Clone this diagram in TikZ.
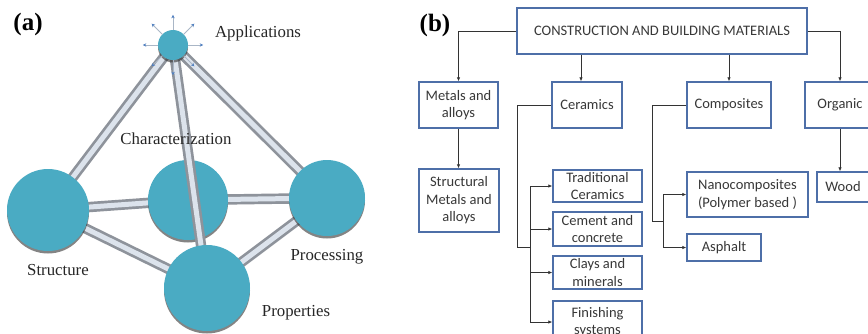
\documentclass[tikz,border=0pt]{standalone}
\usepackage{fontspec}
\setmainfont{Liberation Serif}
\newfontfamily\boxfont{Carlito}
\usetikzlibrary{arrows.meta,shadows}
\definecolor{ballteal}{HTML}{4AABC3}
\definecolor{rodgray}{HTML}{8E939B}
\definecolor{rodlight}{HTML}{DCE3EC}
\definecolor{raygray}{HTML}{A9B6C6}
\definecolor{tipblue}{HTML}{4F7FC0}
\definecolor{boxblue}{HTML}{4E6FA8}
\begin{document}
\begin{tikzpicture}[x=1pt,y=-1pt,
    ball/.style={circle,fill=ballteal,inner sep=0pt,
      drop shadow={shadow xshift=0pt,shadow yshift=-2.5pt,fill=black!80,opacity=0.6}},
    rod/.style={draw=rodgray,line width=2.7pt,double=rodlight,double distance=5pt},
    ray/.style={draw=raygray,line width=0.8pt,-{Stealth[length=3.5pt,width=3.5pt,color=tipblue]}},
    lbl/.style={font=\fontsize{16.8}{19}\selectfont,text=black!85},
    panel/.style={font=\bfseries\fontsize{25}{28}\selectfont},
    box/.style={draw=boxblue,line width=1.4pt,fill=white,align=center,inner sep=1pt,
      text=black!78,font=\boxfont\fontsize{14.5}{17.5}\selectfont},
    wire/.style={draw=black!80,line width=0.8pt},
    link/.style={wire,-{Latex[length=4pt,width=3.5pt]}}]
  \clip (0,0) rectangle (868,333);
  \fill[white] (0,0) rectangle (868,333);

  % (a) tetrahedron
  \node[panel] (lbla) at (28,24) {(a)};
  \coordinate (a0) at (173,45);
  \coordinate (s0) at (48,210);
  \coordinate (c0) at (188,200);
  \coordinate (pc0) at (327,198);
  \coordinate (pr0) at (207,288);
  \draw[rod] (s0) -- (c0);
  \draw[rod] (c0) -- (pc0);
  \node[ball,minimum size=80pt] (charac) at (c0) {};
  \draw[rod] (a0) -- (s0);
  \draw[rod] (a0) -- (pc0);
  \draw[rod] (s0) -- (pr0);
  \draw[rod] (pr0) -- (pc0);
  \draw[rod] (a0) -- (pr0);
  \node[ball,minimum size=82pt] (struct) at (s0) {};
  \node[ball,minimum size=76pt] (proc) at (pc0) {};
  \node[ball,minimum size=86pt] (prop) at (pr0) {};
  \node[ball,minimum size=30pt] (app) at (a0) {};
  \foreach \ang in {0,45,...,315}
    \draw[ray] (app.\ang) -- ++(\ang:15pt);

  \node[lbl] (tapp) at (258,33) {Applications};
  \node[lbl] (tchar) at (176,139) {Characterization};
  \node[lbl] (tstruc) at (58,270) {Structure};
  \node[lbl] (tproc) at (327,257) {Processing};
  \node[lbl] (tprop) at (296,313) {Properties};

  % (b) classification
  \node[panel] (lblb) at (435,25) {(b)};
  \node[box,minimum width=290pt,minimum height=46pt] (cbm) at (662,31) {CONSTRUCTION AND BUILDING MATERIALS};
  \node[box,minimum width=79pt,minimum height=46pt] (metal) at (458.5,105) {Metals and\\alloys};
  \node[box,minimum width=70pt,minimum height=46pt] (ceram) at (587,105) {Ceramics};
  \node[box,minimum width=84pt,minimum height=46pt] (compo) at (729,105) {Composites};
  \node[box,minimum width=70pt,minimum height=46pt] (organ) at (840,105) {Organic};
  \node[box,minimum width=80pt,minimum height=63pt] (smetal) at (459,200.5) {Structural\\Metals and\\alloys};
  \node[box,minimum width=89pt,minimum height=32pt] (tradc) at (597.5,186) {Traditional\\Ceramics};
  \node[box,minimum width=89pt,minimum height=34pt] (cemen) at (597.5,229) {Cement and\\concrete};
  \node[box,minimum width=89pt,minimum height=33pt] (clays) at (597.5,272.5) {Clays and\\minerals};
  \node[box,minimum width=89pt,minimum height=42pt] (finis) at (597.5,322) {Finishing\\systems};
  \node[box,minimum width=121pt,minimum height=45pt] (nanoc) at (747.5,194.5) {Nanocomposites\\(Polymer based )};
  \node[box,minimum width=74pt,minimum height=27pt] (asphl) at (724,247.5) {Asphalt};
  \node[box,minimum width=52pt,minimum height=30pt] (wood) at (843,187) {Wood};

  \draw[link] (cbm.west) -| (metal.north);
  \draw[link] ([xshift=-6pt]cbm.south -| ceram.north) -- ([xshift=-6pt]ceram.north);
  \draw[link] (cbm.south -| compo.north) -- (compo.north);
  \draw[link] (cbm.east) -| (organ.north);
  \draw[link] (metal.south) -- (metal.south |- smetal.north);
  \draw[link] (organ.south) -- (organ.south |- wood.north);

  \coordinate (cerj) at (517,247);
  \coordinate (cerb) at (530,247);
  \draw[wire] (ceram.west) -| (cerj) -- (cerb);
  \foreach \n in {tradc,cemen,clays,finis}
    \draw[link] (cerb) |- (\n.west);

  \coordinate (comj) at (652,221);
  \coordinate (comb) at (663,221);
  \draw[wire] (compo.west) -| (comj) -- (comb);
  \foreach \n in {nanoc,asphl}
    \draw[link] (comb) |- (\n.west);
\end{tikzpicture}
\end{document}
